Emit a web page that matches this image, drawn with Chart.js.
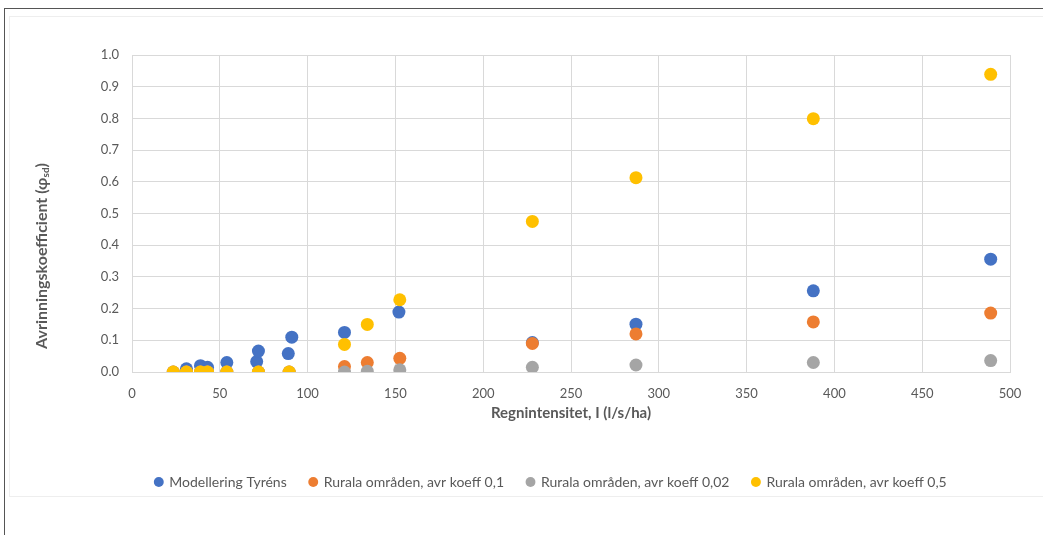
<!DOCTYPE html>
<html>
<head>
<meta charset="utf-8">
<script src="https://cdn.jsdelivr.net/npm/chart.js@4.4.0/dist/chart.umd.min.js"></script>
<style>
  html, body { margin: 0; padding: 0; background: #fff; }
  #wrap { position: relative; width: 1043px; height: 535px; overflow: hidden; }
  #frameTop { position: absolute; left: 4px; top: 8px; width: 1039px; height: 0; border-top: 1.5px solid #555; }
  #frameLeft { position: absolute; left: 4px; top: 8px; width: 0; height: 527px; border-left: 1.5px solid #555; }
  #inner { position: absolute; left: 9px; top: 16px; width: 1034px; height: 481px; border: 1px solid #eeeeee; border-right: none; box-sizing: border-box; }
  canvas { position: absolute; left: 0; top: 0; }
</style>
</head>
<body>
<div id="wrap">
  <div id="inner"></div>
  <canvas id="c" width="1043" height="535"></canvas>
  <div id="frameTop"></div>
  <div id="frameLeft"></div>
</div>
<script>
// ---- Data ----
const seriesNames = [
  "Modellering Tyréns",
  "Rurala områden, avr koeff 0,1",
  "Rurala områden, avr koeff 0,02",
  "Rurala områden, avr koeff 0,5"
];
const xModel = [31, 39, 43, 54, 71, 72, 89, 91, 121, 152, 228, 287, 388, 489];
const yModel = [0.01, 0.02, 0.015, 0.03, 0.033, 0.066, 0.058, 0.11, 0.125, 0.189, 0.093, 0.151, 0.256, 0.356];

const xRural = [23.5, 31, 39, 43, 54, 72, 89.5, 121, 134, 152.5, 228, 287, 388, 489];
const yRural01 = [0, 0, 0, 0, 0, 0, 0, 0.017, 0.03, 0.043, 0.09, 0.12, 0.158, 0.186];
const yRural002 = [0, 0, 0, 0, 0, 0, 0, 0, 0.002, 0.007, 0.015, 0.022, 0.03, 0.036];
const yRural05 = [0, 0, 0, 0, 0, 0, 0, 0.087, 0.15, 0.228, 0.475, 0.613, 0.799, 0.939];

const xTicks = [0, 50, 100, 150, 200, 250, 300, 350, 400, 450, 500];
const yTicks = [0, 0.1, 0.2, 0.3, 0.4, 0.5, 0.6, 0.7, 0.8, 0.9, 1.0];

const xTitle = "Regnintensitet, I (l/s/ha)";
const yTitleMain = "Avrinningskoefficient (φ";
const yTitleSub = "sd";
const yTitleEnd = ")";

const colors = ["#4472C4", "#ED7D31", "#A5A5A5", "#FFC000"];

function pts(xs, ys) { return xs.map((x, i) => ({ x: x, y: ys[i] })); }

const textColor = "#595959";
const gridColor = "#d9d9d9";
const FONT = "Lato, 'Open Sans', sans-serif";

const yTitlePlugin = {
  id: 'yTitle',
  afterDraw(chart) {
    const ctx = chart.ctx;
    ctx.save();
    ctx.translate(42, 256);
    ctx.rotate(-Math.PI / 2);
    ctx.fillStyle = textColor;
    ctx.textBaseline = 'middle';
    ctx.font = "bold 16px " + FONT;
    const w1 = ctx.measureText(yTitleMain).width;
    ctx.font = "bold 10px " + FONT;
    const w2 = ctx.measureText(yTitleSub).width;
    ctx.font = "bold 16px " + FONT;
    const w3 = ctx.measureText(yTitleEnd).width;
    const total = w1 + w2 + w3;
    let x = -total / 2;
    ctx.textAlign = 'left';
    ctx.fillText(yTitleMain, x, 0);
    x += w1;
    ctx.font = "bold 10px " + FONT;
    ctx.fillText(yTitleSub, x, 4);
    x += w2;
    ctx.font = "bold 16px " + FONT;
    ctx.fillText(yTitleEnd, x, 0);
    ctx.restore();
  }
};

const datasets = [
  { data: pts(xModel, yModel), order: 4 },
  { data: pts(xRural, yRural01), order: 3 },
  { data: pts(xRural, yRural002), order: 2 },
  { data: pts(xRural, yRural05), order: 1 }
].map((d, i) => Object.assign(d, {
  label: seriesNames[i],
  backgroundColor: colors[i],
  borderColor: colors[i],
  pointRadius: 6.5,
  pointHoverRadius: 6.5,
  borderWidth: 0,
  pointBorderWidth: 0,
  showLine: false
}));

new Chart(document.getElementById('c'), {
  type: 'scatter',
  data: { datasets: datasets },
  options: {
    responsive: false,
    animation: false,
    events: [],
    layout: { padding: { top: 55, left: 92, right: 33, bottom: 36 } },
    plugins: {
      tooltip: { enabled: false },
      legend: {
        position: 'bottom',
        labels: {
          usePointStyle: true,
          pointStyle: 'circle',
          boxWidth: 7,
          boxHeight: 7,
          padding: 23,
          color: textColor,
          font: { family: FONT, size: 14 },
          sort: (a, b) => a.datasetIndex - b.datasetIndex
        }
      }
    },
    scales: {
      x: {
        type: 'linear',
        min: 0, max: 500,
        afterBuildTicks: s => { s.ticks = xTicks.map(v => ({ value: v })); },
        afterFit: s => { s.height = 80; },
        grid: { color: gridColor, drawTicks: false, lineWidth: 1 },
        border: { color: gridColor },
        ticks: { color: textColor, padding: 14, font: { family: FONT, size: 13 }, maxRotation: 0 },
        title: {
          display: true, text: xTitle, color: textColor,
          font: { family: FONT, size: 15, weight: 'bold' },
          padding: { top: 4, bottom: 30 }
        }
      },
      y: {
        type: 'linear',
        min: 0, max: 1,
        afterBuildTicks: s => { s.ticks = yTicks.map(v => ({ value: v })); },
        afterFit: s => { s.width = 40; },
        grid: { color: gridColor, drawTicks: false, lineWidth: 1 },
        border: { color: gridColor },
        ticks: {
          color: textColor, padding: 13, font: { family: FONT, size: 13 },
          callback: v => Number(v).toFixed(1)
        }
      }
    }
  },
  plugins: [yTitlePlugin]
});
</script>
</body>
</html>
